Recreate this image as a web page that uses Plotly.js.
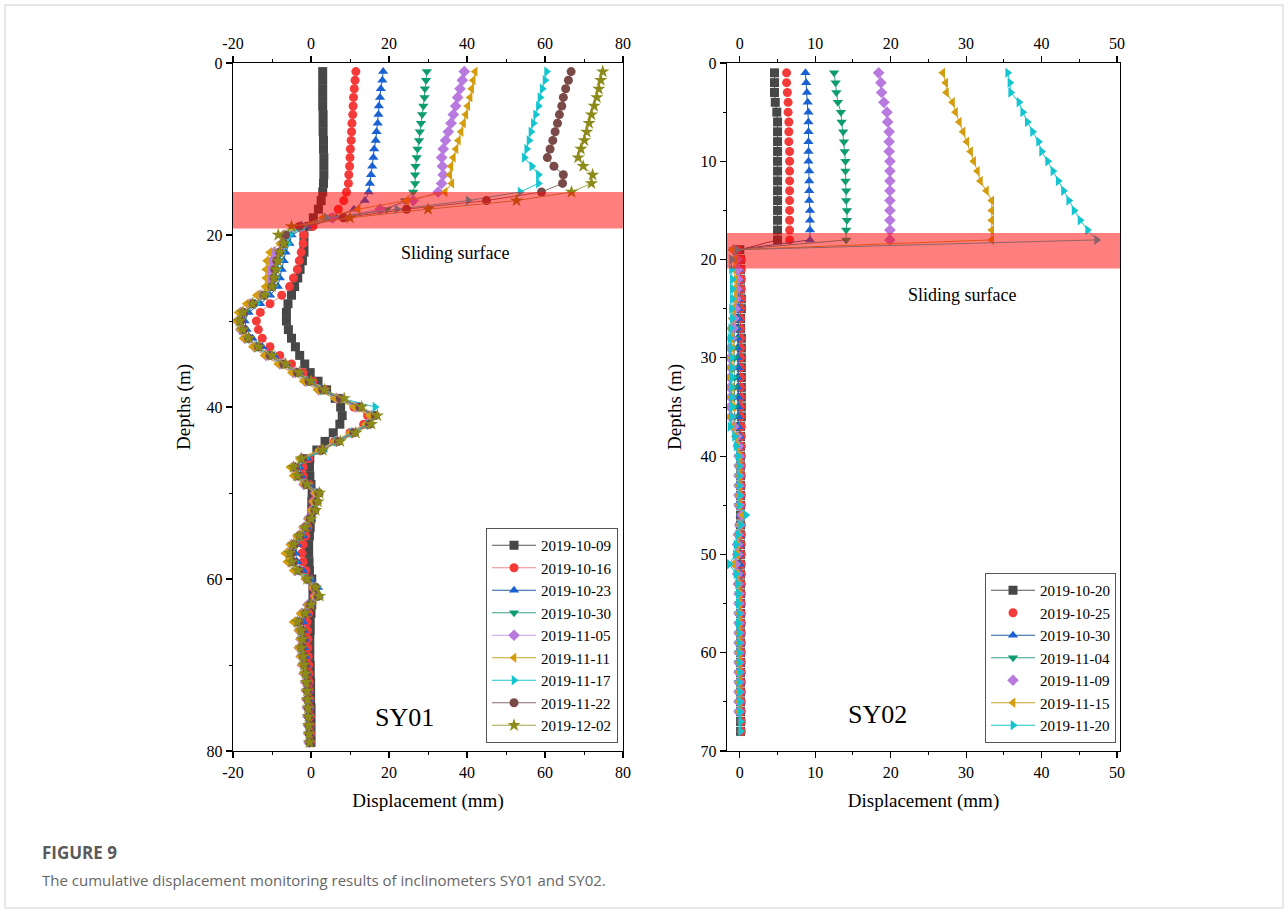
<!DOCTYPE html>
<html>
<head>
<meta charset="utf-8">
<script src="https://cdn.plot.ly/plotly-3.0.1.min.js"></script>
<style>html,body{margin:0;padding:0;background:#fff;}#chart{width:1288px;height:914px;}
.legendtext{font-family:"Liberation Serif","Times New Roman",serif !important;}</style>
</head>
<body>
<div id="chart"></div>
<script>
// ---------- SY01 (left panel) ----------
const depth1 = [1,2,3,4,5,6,7,8,9,10,11,12,13,14,15,16,17,18,19,20,21,22,23,24,25,26,27,28,29,30,31,32,33,34,35,36,37,38,39,40,41,42,43,44,45,46,47,48,49,50,51,52,53,54,55,56,57,58,59,60,61,62,63,64,65,66,67,68,69,70,71,72,73,74,75,76,77,78,79];
const dates1 = ["2019-10-09","2019-10-16","2019-10-23","2019-10-30","2019-11-05","2019-11-11","2019-11-17","2019-11-22","2019-12-02"];

const s1_1009 = [3.0,3.0,3.0,3.0,3.0,3.1,3.1,3.1,3.2,3.2,3.3,3.3,3.3,3.2,3.0,2.6,1.9,0.6,-0.5,
 -1.8,-1.8,-1.8,-2.2,-2.8,-3.4,-4.2,-5.0,-5.9,-6.3,-6.3,-5.8,-5.0,-4.0,-2.9,-1.6,-0.2,1.8,4.0,6.2,7.6,8.0,7.4,5.7,3.6,1.5,-0.3,-0.4,
 -0.3,0.0,0.3,0.2,0.2,0.0,-0.2,-0.4,-0.6,-0.6,-0.5,-0.4,0.2,0.5,0.5,0.2,0.0,-0.2,-0.2,-0.3,-0.3,-0.3,-0.2,-0.2,-0.1,-0.1,-0.1,0.0,0.0,0.0,0.0,0.0];
const s1_1016 = [11.5,11.3,11.1,10.9,10.8,10.7,10.5,10.4,10.3,10.1,10.0,9.9,9.7,9.6,9.1,8.4,7.0,5.4,0.5,
 -1.8,-2.0,-2.5,-3.0,-3.5,-4.5,-5.5,-7.5,-10.5,-13.0,-14.0,-13.5,-12.5,-10.5,-8.0,-5.0,-2.0,0.5,3.5,7.0,11.0,14.5,13.5,10.0,6.0,2.5,-0.5,-2.0,
 -2.0,-0.5,1.0,0.5,0.2,-0.3,-0.8,-1.3,-2.0,-2.3,-2.0,-1.3,-0.3,0.5,0.8,0.0,-0.6,-1.0,-0.9,-0.8,-0.8,-0.7,-0.6,-0.5,-0.4,-0.4,-0.3,-0.3,-0.2,-0.2,-0.1,-0.1];
const s1_1023 = [18.5,18.3,17.9,17.7,17.4,17.3,17.1,16.8,16.6,16.2,16.0,15.7,15.4,15.1,14.8,13.8,11.0,6.5,-1.0,
 -5.0,-5.5,-6.5,-7.0,-7.5,-8.0,-8.5,-10.5,-13.0,-16.0,-17.0,-16.5,-15.0,-12.5,-9.5,-6.5,-3.0,0.0,3.5,8.0,12.5,16.0,15.0,11.0,7.0,3.0,-1.0,-3.0,
 -2.5,-0.5,2.0,1.5,0.8,0.0,-1.0,-2.0,-3.5,-4.0,-3.5,-2.0,0.0,1.8,2.0,0.0,-1.0,-2.0,-1.8,-1.5,-1.7,-1.4,-1.2,-1.0,-0.8,-0.7,-0.6,-0.5,-0.5,-0.4,-0.3,-0.3];
const s1_1030 = [29.7,29.5,29.2,29.1,28.8,28.5,28.2,27.9,27.7,27.3,27.1,26.8,26.7,26.7,26.2,24.1,19.4,8.0,-2.0,
 -6.0,-6.5,-7.5,-8.5,-9.0,-9.0,-9.5,-12.0,-14.5,-17.0,-18.0,-17.5,-16.5,-14.0,-11.0,-7.5,-4.0,-1.0,2.5,7.0,12.0,15.5,14.5,10.5,6.5,2.5,-2.0,-4.0,
 -3.5,-1.5,1.5,1.0,0.5,-0.5,-1.5,-3.0,-4.5,-5.5,-5.0,-3.5,-1.0,1.0,1.5,-0.5,-2.0,-3.5,-2.8,-2.5,-2.8,-2.3,-2.0,-1.5,-1.3,-1.1,-1.0,-0.9,-0.8,-0.7,-0.6,-0.5];
const s1_1105 = [39.3,38.8,38.2,37.6,37.1,36.5,35.9,35.2,34.5,33.9,33.5,33.7,33.9,33.5,32.6,26.2,17.7,5.5,-2.5,
 -7.0,-7.5,-9.4,-10.0,-10.5,-10.5,-11.0,-13.0,-15.5,-18.0,-18.8,-18.0,-17.0,-14.5,-11.5,-8.0,-4.5,-1.5,2.0,6.5,11.5,15.5,14.5,10.5,6.5,2.5,-2.5,-4.5,
 -4.0,-1.8,1.2,0.8,0.3,-0.6,-1.8,-3.3,-5.0,-6.0,-5.6,-4.0,-1.2,0.8,1.2,-0.8,-2.4,-4.0,-3.0,-2.6,-3.0,-2.5,-2.2,-1.8,-1.4,-1.2,-1.1,-0.9,-0.8,-0.7,-0.6,-0.5];
const s1_1111 = [42.1,41.6,41.2,40.8,40.2,39.7,39.1,38.5,37.8,37.2,36.5,35.9,35.6,36.1,34.4,24.5,12.1,3.0,-3.0,
 -7.5,-8.0,-10.6,-11.4,-11.6,-11.6,-11.8,-14.0,-16.6,-18.7,-19.2,-18.2,-17.4,-15.0,-12.0,-8.5,-5.0,-2.0,1.5,6.0,11.0,15.0,14.0,10.0,6.0,2.0,-3.0,-5.4,
 -4.6,-2.0,1.0,0.5,0.0,-0.8,-2.0,-3.7,-5.4,-6.7,-6.2,-4.6,-1.5,0.5,1.0,-1.0,-2.8,-4.6,-3.3,-2.8,-3.3,-2.8,-2.4,-2.0,-1.5,-1.3,-1.2,-1.0,-0.9,-0.8,-0.7,-0.5];
const s1_1117 = [60.4,60.0,59.3,58.7,58.3,57.6,57.0,56.4,55.9,55.3,54.7,56.6,58.3,58.3,53.6,40.3,22.0,4.0,-2.0,
 -5.5,-6.0,-7.5,-8.0,-8.5,-9.0,-9.5,-11.5,-14.0,-17.0,-18.0,-17.3,-16.0,-13.5,-10.5,-7.0,-3.5,-0.5,3.0,8.0,16.4,16.0,14.5,10.5,6.5,3.3,-1.5,-3.5,
 -3.0,-1.0,1.8,1.2,0.8,0.0,-1.2,-2.5,-4.0,-4.8,-4.2,-2.8,-0.5,1.5,1.8,-0.2,-1.5,-2.8,-2.2,-2.0,-2.2,-1.8,-1.6,-1.2,-1.0,-0.9,-0.8,-0.7,-0.6,-0.5,-0.4,-0.3];
const s1_1122 = [66.7,66.0,65.3,64.7,64.3,63.7,63.2,62.6,62.0,61.3,60.6,62.3,64.7,64.5,59.1,45.0,24.5,8.3,-3.0,
 -6.5,-7.0,-8.0,-8.8,-9.3,-9.5,-10.0,-12.0,-14.8,-17.2,-18.0,-17.2,-16.0,-13.5,-10.5,-7.0,-3.5,-0.5,3.0,7.5,12.5,16.5,15.0,11.0,7.0,2.8,-2.0,-4.0,
 -3.2,-1.2,2.0,1.5,1.0,-0.2,-1.3,-2.8,-4.2,-5.0,-4.5,-3.0,-0.8,1.2,1.8,-0.2,-1.4,-3.0,-2.3,-2.0,-2.3,-1.9,-1.6,-1.2,-1.0,-0.9,-0.8,-0.7,-0.6,-0.5,-0.4,-0.3];
const s1_1202 = [74.8,74.3,73.8,73.3,72.6,71.9,71.3,70.7,70.1,69.2,68.5,69.8,72.2,71.9,66.8,52.7,30.0,10.0,-5.0,
 -8.4,-7.0,-8.0,-8.5,-9.0,-9.5,-10.0,-12.0,-15.0,-17.5,-18.3,-17.5,-16.0,-13.5,-10.0,-6.5,-3.0,0.0,3.5,8.5,13.0,17.0,15.5,11.5,7.5,3.0,-2.5,-4.5,
 -3.5,-1.0,2.2,1.8,1.2,0.0,-1.5,-3.0,-4.5,-5.5,-5.0,-3.5,-1.0,1.2,2.2,0.0,-1.5,-3.5,-2.5,-2.2,-2.5,-2.0,-1.8,-1.4,-1.2,-1.0,-0.9,-0.8,-0.7,-0.6,-0.5,-0.4];
const series1 = [s1_1009,s1_1016,s1_1023,s1_1030,s1_1105,s1_1111,s1_1117,s1_1122,s1_1202];

// ---------- SY02 (right panel) ----------
const depth2 = [1,2,3,4,5,6,7,8,9,10,11,12,13,14,15,16,17,18,19,20,21,22,23,24,25,26,27,28,29,30,31,32,33,34,35,36,37,38,39,40,41,42,43,44,45,46,47,48,49,50,51,52,53,54,55,56,57,58,59,60,61,62,63,64,65,66,67,68];
const dates2 = ["2019-10-20","2019-10-25","2019-10-30","2019-11-04","2019-11-09","2019-11-15","2019-11-20"];

const s2_1020 = [4.6,4.6,4.6,4.7,4.9,5.0,5.0,5.0,5.0,5.0,5.0,5.0,5.0,5.0,5.0,5.0,5.0,5.0,
 0.0,0.1,0.1,0.1,0.1,0.2,0.2,0.1,0.1,0.2,0.2,0.2,0.2,0.2,0.2,0.2,0.2,0.2,0.1,0.1,0.1,0.1,0.1,0.1,0.1,0.1,0.1,0.1,0.1,0.1,
 0.1,0.1,0.1,0.1,0.1,0.1,0.1,0.1,0.1,0.1,0.1,0.1,0.1,0.1,0.1,0.1,0.1,0.1,0.1,0.1];
const s2_1025 = [6.2,6.2,6.3,6.4,6.4,6.5,6.5,6.5,6.6,6.6,6.6,6.6,6.6,6.6,6.6,6.6,6.6,6.6,
 -0.3,0.2,0.2,0.2,0.2,0.2,0.1,0.1,0.1,0.1,0.1,0.1,0.1,0.1,0.1,0.1,0.1,0.1,0.2,0.2,0.2,0.2,0.2,0.2,0.2,0.2,0.2,0.2,0.2,0.2,
 0.2,0.2,0.2,0.2,0.2,0.2,0.2,0.2,0.2,0.2,0.2,0.2,0.2,0.2,0.2,0.2,0.2,0.2,0.2,0.2];
const s2_1030 = [8.7,8.8,8.9,9.0,9.1,9.1,9.1,9.1,9.1,9.1,9.2,9.2,9.2,9.2,9.3,9.3,9.3,9.3,
 -0.5,-0.2,-0.2,-0.2,-0.2,-0.2,-0.2,-0.2,-0.3,-0.3,-0.3,-0.3,-0.2,-0.3,-0.3,-0.2,-0.2,-0.2,-0.2,0.0,0.0,0.0,0.0,0.0,0.0,0.0,0.0,0.1,
 0.0,0.0,0.0,-0.1,0.0,0.0,0.0,0.0,0.0,0.0,0.0,0.0,0.0,0.0,0.0,0.0,0.0,0.0,0.0,0.0];
const s2_1104 = [12.5,12.7,12.8,13.0,13.4,13.5,13.7,13.8,13.9,14.0,14.0,14.0,14.1,14.1,14.2,14.2,14.1,14.1,
 -0.8,-0.4,-0.4,-0.5,-0.4,-0.5,-0.5,-0.6,-0.6,-0.7,-0.8,-0.7,-0.8,-0.7,-0.7,-0.8,-0.7,-0.7,-0.6,-0.3,-0.2,-0.1,-0.1,-0.1,-0.1,-0.1,-0.1,0.2,
 0.0,-0.1,-0.2,-0.2,-0.4,-0.2,-0.1,-0.1,-0.1,-0.1,-0.1,-0.1,-0.1,-0.1,-0.1,-0.1,-0.1,-0.1,-0.1,-0.1];
const s2_1109 = [18.4,18.7,18.8,19.1,19.5,19.6,19.8,19.8,19.8,19.9,19.9,19.9,19.9,19.9,19.9,19.9,19.9,19.9,
 -0.8,-0.4,-0.3,-0.3,-0.4,-0.5,-0.6,-0.8,-0.9,-1.1,-1.3,-1.3,-1.2,-1.3,-1.3,-1.2,-1.3,-1.2,-0.8,-0.4,-0.2,-0.1,-0.1,-0.1,-0.1,-0.1,-0.1,0.3,
 0.0,-0.2,-0.3,-0.3,-0.6,-0.3,-0.2,-0.1,-0.1,-0.1,-0.1,-0.1,-0.1,-0.1,-0.1,-0.1,-0.1,-0.1,-0.1,-0.1];
const s2_1115 = [26.9,27.3,27.4,28.2,28.6,29.1,29.6,30.1,30.6,31.0,31.5,31.9,32.7,33.4,33.4,33.4,33.4,33.4,
 -1.0,-0.7,-0.8,-0.6,-0.7,-0.7,-0.9,-1.0,-1.3,-1.2,-1.0,-1.1,-1.2,-1.3,-1.0,-1.1,-0.9,-1.3,-1.0,-0.5,-0.3,-0.1,-0.1,-0.1,-0.1,-0.1,-0.1,0.4,
 0.0,-0.2,-0.3,-0.4,-0.8,-0.3,-0.2,-0.1,-0.1,-0.1,-0.1,-0.1,-0.1,-0.1,-0.1,-0.1,-0.1,-0.1,-0.1,-0.1];
const s2_1120 = [35.5,35.8,35.9,37.0,37.5,38.1,38.8,39.6,40.0,40.8,41.5,42.2,42.9,43.6,44.3,45.1,46.1,47.3,
 -0.4,-1.1,-1.1,-1.0,-1.0,-1.0,-1.1,-1.0,-1.2,-1.3,-1.2,-1.1,-1.1,-1.0,-1.1,-1.1,-1.0,-1.1,-1.3,-0.7,-0.5,-0.2,-0.1,-0.1,-0.1,0.0,-0.1,0.8,
 0.1,-0.3,-0.5,-0.6,-1.4,-0.5,-0.3,-0.2,-0.2,-0.1,-0.2,-0.1,-0.1,-0.1,-0.1,0.0,-0.1,0.0,0.0,0.0,0.1,0.1];
const series2 = [s2_1020,s2_1025,s2_1030,s2_1104,s2_1109,s2_1115,s2_1120];

// ---------- tick labels ----------
const xTicks1 = [-20, 0, 20, 40, 60, 80];
const xTickText1 = ["-20", "0", "20", "40", "60", "80"];
const xMinor1 = [-10, 10, 30, 50, 70];
const xTicks2 = [0, 10, 20, 30, 40, 50];
const xTickText2 = ["0", "10", "20", "30", "40", "50"];
const xMinor2 = [5, 15, 25, 35, 45];

// ---------- styles ----------
const mColors1 = ["#474747","#F53A3A","#1A62D4","#0C9C6E","#B87ADF","#D49D0E","#12C5CF","#7A4A48","#8C8A18"];
const lColors1 = ["#555555","#F08A8A","#1F5FA0","#3A9E8A","#C9A0E6","#C9A227","#20C4CC","#8A6E6C","#A6A34A"];
const symbols1 = ["square","circle","triangle-up","triangle-down","diamond","triangle-left","triangle-right","circle","star"];
const mColors2 = ["#474747","#F53A3A","#1A62D4","#0C9C6E","#B87ADF","#D49D0E","#12C5CF"];
const lColors2 = ["#555555","#F08A8A","#1F5FA0","#3A9E8A","#C9A0E6","#C9A227","#20C4CC"];
const symbols2 = ["square","circle","triangle-up","triangle-down","diamond","triangle-left","triangle-right"];
const modes2 = ["lines+markers","markers","lines+markers","lines+markers","markers","lines+markers","lines+markers"];

const FONT = "Liberation Serif, Times New Roman, serif";
const traces = [];
series1.forEach((s, i) => {
  traces.push({
    x: s, y: depth1, type: "scatter", mode: "lines+markers", name: dates1[i],
    xaxis: "x", yaxis: "y", legend: "legend",
    line: {color: lColors1[i], width: 1},
    marker: {symbol: symbols1[i], color: mColors1[i], size: symbols1[i] === "star" ? 10 : 9, line: {width: 0}},
    hoverinfo: "skip"
  });
});
series2.forEach((s, i) => {
  traces.push({
    x: s, y: depth2, type: "scatter", mode: modes2[i], name: dates2[i],
    xaxis: "x2", yaxis: "y2", legend: "legend2",
    line: {color: lColors2[i], width: 1},
    marker: {symbol: symbols2[i], color: mColors2[i], size: 9, line: {width: 0}},
    hoverinfo: "skip"
  });
});
// empty traces so that the top axes are drawn
traces.push({x: [null], y: [null], xaxis: "x3", yaxis: "y", showlegend: false, hoverinfo: "skip", mode: "markers"});
traces.push({x: [null], y: [null], xaxis: "x4", yaxis: "y2", showlegend: false, hoverinfo: "skip", mode: "markers"});

const W = 1288, H = 914;
const dL = [233/W, 623/W], dR = [727/W, 1120/W], dY = [1 - 751/H, 1 - 63/H];

function xax(domain, range, tv, tt, mv, title, anchor, extra) {
  return Object.assign({
    domain: domain, range: range, anchor: anchor,
    tickmode: "array", tickvals: tv, ticktext: tt,
    ticks: "outside", ticklen: 6, tickwidth: 1.2, tickcolor: "#000",
    minor: {tickmode: "array", tickvals: mv, ticks: "outside", ticklen: 3, tickwidth: 1, tickcolor: "#000", showgrid: false},
    showline: true, linecolor: "#000", linewidth: 1.3, showgrid: false, zeroline: false,
    tickfont: {family: FONT, size: 16, color: "#000"},
    title: title ? {text: title, font: {family: FONT, size: 19, color: "#000"}, standoff: 14} : undefined
  }, extra || {});
}
function yax(domain, range, dtick, minor, anchor, standoff) {
  return {
    domain: domain, range: range, anchor: anchor, dtick: dtick, tick0: 0,
    ticks: "outside", ticklen: 6, tickwidth: 1.2, tickcolor: "#000",
    minor: {dtick: minor, tick0: 0, ticks: "outside", ticklen: 3, tickwidth: 1, tickcolor: "#000", showgrid: false},
    showline: true, linecolor: "#000", linewidth: 1.3, mirror: true, showgrid: false, zeroline: false,
    tickfont: {family: FONT, size: 16, color: "#000"},
    title: {text: "Depths (m)", font: {family: FONT, size: 19, color: "#000"}, standoff: standoff}
  };
}

const legendFont = {family: FONT, size: 15, color: "#000"};
const layout = {
  width: W, height: H,
  margin: {l: 0, r: 0, t: 0, b: 0},
  paper_bgcolor: "#fff", plot_bgcolor: "#fff",
  font: {family: FONT, color: "#000"},
  showlegend: true,
  xaxis: xax(dL, [-20, 80], xTicks1, xTickText1, xMinor1, "Displacement (mm)", "y", {mirror: true}),
  xaxis3: xax(dL, [-20, 80], xTicks1, xTickText1, xMinor1, null, "y", {overlaying: "x", side: "top"}),
  yaxis: yax(dY, [80, 0], 20, 10, "x", 11),
  xaxis2: xax(dR, [-1.7, 50.4], xTicks2, xTickText2, xMinor2, "Displacement (mm)", "y2", {mirror: true}),
  xaxis4: xax(dR, [-1.7, 50.4], xTicks2, xTickText2, xMinor2, null, "y2", {overlaying: "x2", side: "top"}),
  yaxis2: yax(dY, [70, 0], 10, 5, "x2", 14),
  legend: {
    x: 618/W, xanchor: "right", y: 1 - 743/H, yanchor: "bottom",
    bgcolor: "#fff", bordercolor: "#555", borderwidth: 1,
    font: legendFont, itemwidth: 44, tracegroupgap: 0
  },
  legend2: {
    x: 1116/W, xanchor: "right", y: 1 - 743/H, yanchor: "bottom",
    bgcolor: "#fff", bordercolor: "#555", borderwidth: 1,
    font: legendFont, itemwidth: 44, tracegroupgap: 0
  },
  shapes: [
    {type: "rect", xref: "x", yref: "y", x0: -20, x1: 80, y0: 15.0, y1: 19.25, fillcolor: "rgba(255,0,0,0.5)", line: {width: 0}, layer: "above"},
    {type: "rect", xref: "x2", yref: "y2", x0: -1.7, x1: 50.4, y0: 17.3, y1: 20.9, fillcolor: "rgba(255,0,0,0.5)", line: {width: 0}, layer: "above"},
    {type: "rect", xref: "paper", yref: "paper", x0: 5/W, x1: 1283/W, y0: 1 - 908/H, y1: 1 - 5/H, line: {color: "#d0d0d0", width: 1}, fillcolor: "rgba(0,0,0,0)", layer: "below"}
  ],
  annotations: [
    {xref: "x", yref: "y", x: 37, y: 22.1, text: "Sliding surface", showarrow: false, font: {family: FONT, size: 18, color: "#000"}},
    {xref: "x2", yref: "y2", x: 29.4, y: 23.6, text: "Sliding surface", showarrow: false, font: {family: FONT, size: 18, color: "#000"}},
    {xref: "x", yref: "y", x: 24.1, y: 76.1, text: "SY01", showarrow: false, font: {family: FONT, size: 26, color: "#000"}},
    {xref: "x2", yref: "y2", x: 18.2, y: 66.3, text: "SY02", showarrow: false, font: {family: FONT, size: 26, color: "#000"}},
    {xref: "paper", yref: "paper", x: 40/W, y: 1 - 852/H, xanchor: "left", yanchor: "middle", text: "<b>FIGURE 9</b>", showarrow: false, font: {family: "Open Sans, sans-serif", size: 17, color: "#5a5a5a"}},
    {xref: "paper", yref: "paper", x: 40/W, y: 1 - 880/H, xanchor: "left", yanchor: "middle", text: "The cumulative displacement monitoring results of inclinometers SY01 and SY02.", showarrow: false, font: {family: "Open Sans, sans-serif", size: 15, color: "#666"}}
  ]
};

Plotly.newPlot("chart", traces, layout, {displayModeBar: false, staticPlot: true});
</script>
</body>
</html>
